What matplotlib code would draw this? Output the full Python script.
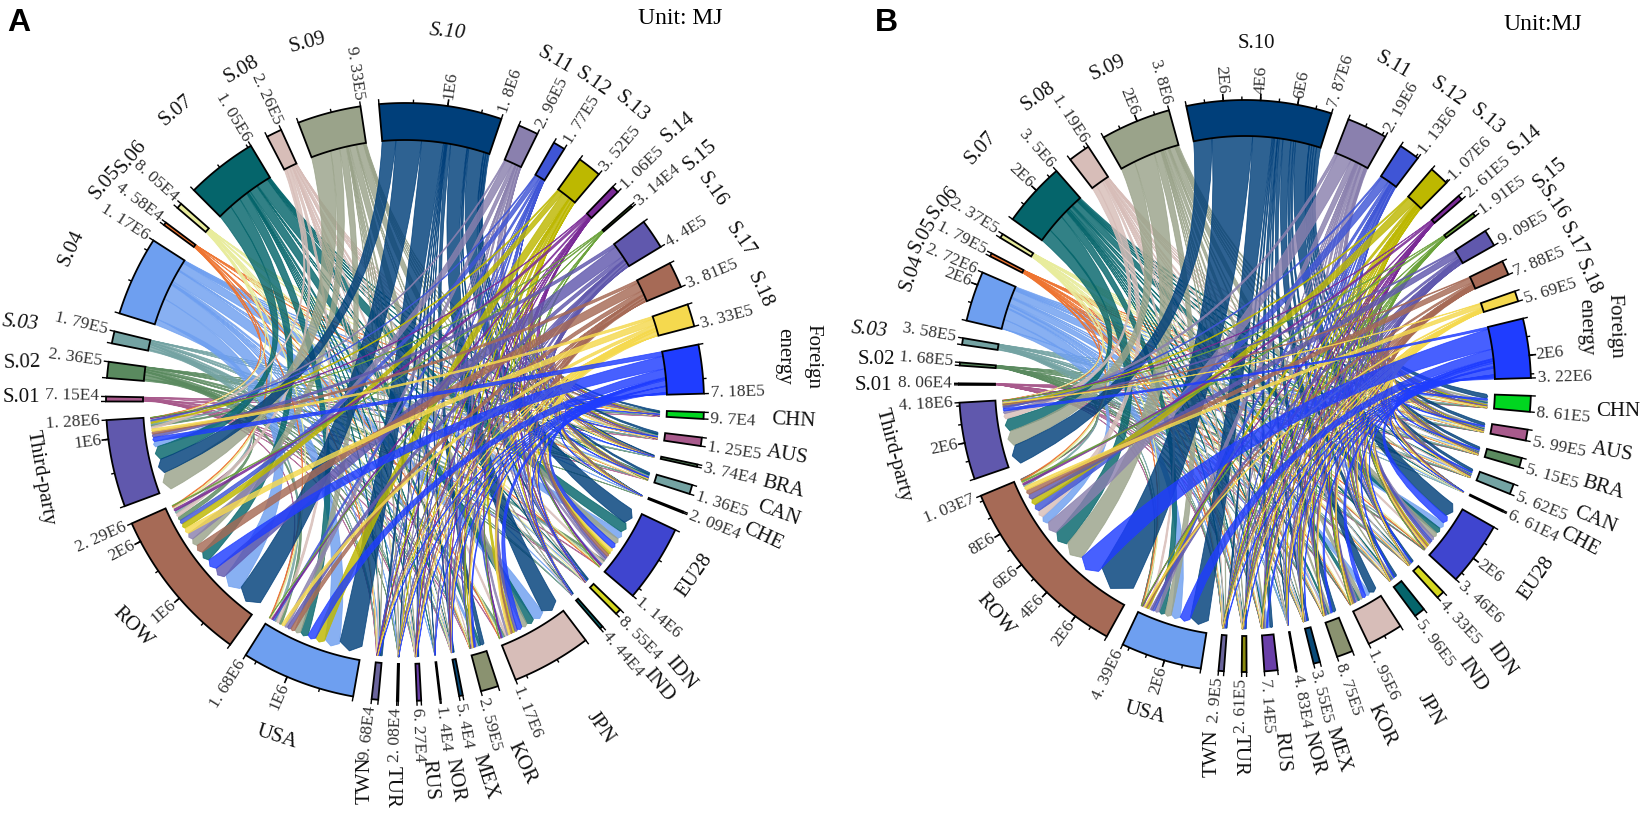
import numpy as np
import matplotlib
matplotlib.use('Agg')
import matplotlib.pyplot as plt
from matplotlib.path import Path
from matplotlib.patches import PathPatch

plt.rcParams['font.family'] = ['Liberation Serif', 'DejaVu Sans']

src_names = ['S.01', 'S.02', 'S.03', 'S.04', 'S.05', 'S.06', 'S.07', 'S.08', 'S.09', 'S.10',
             'S.11', 'S.12', 'S.13', 'S.14', 'S.15', 'S.16', 'S.17', 'S.18', 'Foreign\nenergy']
dst_names = ['CHN', 'AUS', 'BRA', 'CAN', 'CHE', 'EU28', 'IDN', 'IND', 'JPN', 'KOR', 'MEX',
             'NOR', 'RUS', 'TUR', 'TWN', 'USA', 'ROW', 'Third-party']

src_a = [7.15e4, 2.36e5, 1.79e5, 1.17e6, 4.58e4, 8.05e4, 1.05e6, 2.26e5, 9.33e5, 1.8e6,
         2.96e5, 1.77e5, 3.52e5, 1.06e5, 3.14e4, 4.4e5, 3.81e5, 3.33e5, 7.18e5]
dst_a = [9.7e4, 1.25e5, 3.74e4, 1.36e5, 2.09e4, 1.14e6, 8.55e4, 4.44e4, 1.17e6, 2.59e5, 5.4e4,
         1.4e4, 6.27e4, 2.08e4, 9.68e4, 1.68e6, 2.29e6, 1.28e6]
src_b = [8.06e4, 1.68e5, 3.58e5, 2.72e6, 1.79e5, 2.37e5, 3.5e6, 1.19e6, 3.8e6, 7.87e6,
         2.19e6, 1.13e6, 1.07e6, 2.61e5, 1.91e5, 9.09e5, 7.88e5, 5.69e5, 3.22e6]
dst_b = [8.61e5, 5.99e5, 5.15e5, 5.62e5, 6.61e4, 3.46e6, 4.33e5, 5.96e5, 1.95e6, 8.75e5, 3.55e5,
         4.83e4, 7.14e5, 2.61e5, 2.9e5, 4.39e6, 1.03e7, 4.18e6]

# flows in 1000 MJ, rows = src_names, columns = dst_names, estimated from band widths
flows_a = [
    [1, 1, 0, 2, 0, 10, 1, 0, 8, 2, 1, 0, 1, 0, 1, 14, 20, 10],
    [3, 3, 1, 4, 1, 30, 2, 1, 26, 7, 2, 0, 2, 1, 3, 50, 70, 30],
    [2, 3, 1, 3, 0, 24, 2, 1, 22, 5, 1, 0, 1, 0, 2, 38, 52, 22],
    [10, 14, 4, 16, 2, 130, 8, 5, 190, 30, 6, 1, 6, 2, 10, 245, 340, 91],
    [1, 1, 0, 1, 0, 6, 0, 0, 6, 1, 0, 0, 0, 0, 1, 9, 14, 6],
    [1, 1, 0, 1, 0, 11, 1, 0, 10, 3, 1, 0, 1, 0, 1, 15, 23, 11],
    [12, 14, 4, 16, 2, 170, 10, 5, 125, 30, 6, 2, 8, 2, 10, 130, 175, 215],
    [3, 3, 1, 3, 1, 30, 2, 1, 28, 6, 1, 0, 2, 1, 3, 42, 60, 39],
    [9, 11, 4, 13, 2, 100, 8, 4, 95, 22, 5, 1, 6, 2, 8, 100, 135, 293],
    [25, 30, 9, 30, 5, 260, 20, 10, 280, 60, 12, 3, 15, 5, 25, 370, 430, 231],
    [3, 4, 1, 5, 1, 35, 3, 2, 30, 8, 2, 0, 2, 1, 3, 55, 120, 21],
    [2, 3, 1, 3, 0, 20, 2, 1, 18, 5, 1, 0, 1, 0, 2, 32, 70, 16],
    [4, 5, 1, 6, 1, 50, 3, 2, 45, 10, 2, 0, 2, 1, 4, 150, 90, 21],
    [1, 1, 0, 2, 0, 14, 1, 1, 12, 3, 1, 0, 1, 0, 1, 20, 38, 10],
    [0, 0, 0, 1, 0, 4, 0, 0, 3, 1, 0, 0, 0, 0, 0, 6, 12, 4],
    [4, 6, 2, 6, 1, 45, 4, 2, 45, 10, 3, 1, 3, 1, 4, 60, 200, 53],
    [4, 5, 2, 5, 1, 45, 3, 2, 40, 9, 2, 0, 3, 1, 4, 65, 145, 45],
    [4, 4, 1, 5, 1, 70, 3, 2, 30, 8, 2, 0, 2, 1, 3, 50, 100, 42],
    [8, 10, 3, 11, 2, 90, 6, 3, 85, 20, 4, 1, 6, 2, 8, 130, 190, 69],
]
flows_b = [
    [2, 2, 1, 1, 0, 10, 1, 2, 5, 2, 1, 0, 2, 1, 1, 12, 26, 12],
    [5, 3, 3, 3, 0, 19, 2, 3, 11, 5, 2, 0, 4, 1, 2, 24, 56, 25],
    [10, 7, 6, 7, 1, 40, 5, 7, 23, 10, 4, 1, 8, 3, 3, 52, 121, 50],
    [60, 45, 38, 42, 5, 400, 32, 45, 300, 65, 27, 4, 150, 20, 22, 600, 500, 30],
    [4, 3, 3, 3, 0, 23, 3, 4, 12, 6, 2, 0, 5, 2, 2, 28, 64, 15],
    [6, 4, 4, 4, 1, 30, 4, 5, 16, 8, 3, 0, 6, 2, 2, 38, 80, 24],
    [80, 60, 50, 55, 6, 350, 40, 55, 180, 80, 35, 5, 50, 25, 30, 400, 1000, 749],
    [22, 15, 13, 14, 2, 100, 11, 15, 50, 23, 9, 1, 18, 7, 8, 130, 450, 322],
    [80, 60, 50, 55, 6, 330, 45, 60, 200, 90, 35, 5, 60, 25, 30, 420, 1300, 899],
    [250, 170, 140, 150, 18, 850, 120, 170, 500, 230, 100, 12, 170, 70, 80, 1200, 2500, 1140],
    [55, 40, 35, 35, 5, 210, 28, 38, 130, 55, 22, 3, 48, 17, 18, 290, 800, 161],
    [30, 20, 18, 20, 2, 120, 15, 20, 65, 30, 12, 2, 24, 9, 10, 150, 450, 83],
    [30, 20, 15, 16, 2, 95, 12, 16, 55, 25, 10, 1, 20, 8, 8, 120, 400, 67],
    [7, 5, 4, 5, 1, 30, 4, 5, 16, 7, 3, 0, 6, 2, 2, 35, 110, 19],
    [5, 4, 3, 4, 0, 22, 3, 4, 12, 6, 2, 0, 4, 2, 2, 26, 75, 17],
    [25, 18, 15, 17, 2, 110, 12, 18, 60, 26, 11, 2, 20, 8, 9, 130, 350, 76],
    [22, 15, 13, 14, 2, 95, 11, 15, 50, 22, 9, 1, 18, 7, 8, 115, 320, 51],
    [16, 11, 10, 11, 1, 70, 8, 11, 36, 16, 7, 1, 13, 5, 5, 75, 240, 33],
    [100, 70, 60, 65, 8, 450, 50, 70, 240, 105, 45, 6, 90, 30, 35, 650, 1400, 146],
]

src_colors = ['#a85a8c', '#5a8a5f', '#74a3a3', '#6e9ff0', '#ee7430', '#e8ec9c', '#05656b', '#d7bdb8',
              '#9aa38a', '#003f7a', '#8a80ae', '#3f55d6', '#bdb800', '#7a2a96', '#6aa23a', '#6058ad',
              '#a66a56', '#f5d94e', '#1f3dff']
dst_colors = ['#00d620', '#a85a8c', '#5a8a5f', '#74a3a3', '#c75f22', '#3f45cf', '#d6d820', '#05656b',
              '#d7bdb8', '#8a9270', '#0a4a78', '#222222', '#6a3fa8', '#8a8a10', '#6a649c', '#6e9ff0',
              '#a66a56', '#6058ad']

# name label placement (pixel x, pixel y, rotation), sources then destinations
names_pos_a = [(21, 398, 0), (22, 363, 2), (20, 323, -5), (71, 248, 65), (105, 183, 50), (131, 157, 50),
               (176, 110, 40), (242, 70, 30), (308, 43, 15), (447, 32, -5), (555, 60, -30), (593, 82, -35),
               (632, 107, -40), (678, 127, 40), (700, 155, 40), (712, 190, -55), (740, 240, -55),
               (760, 290, -65), (798, 356, -90),
               (793, 421, -3), (787, 455, -10), (783, 487, -15), (778, 513, -20), (763, 537, -25),
               (695, 575, 55), (681, 673, -50), (659, 685, -50), (600, 728, -55), (522, 763, -65),
               (485, 777, -72), (455, 780, -80), (430, 780, -85), (392, 787, -90), (365, 780, 90),
               (277, 737, -18), (133, 627, -45), (40, 478, -80)]
names_pos_b = [(873, 386, 0), (876, 360, 0), (869, 330, -5), (912, 273, 70), (923, 235, 60), (943, 203, 50),
               (981, 148, 48), (1038, 97, 35), (1108, 68, 25), (1256, 43, 0), (1393, 65, -30), (1448, 92, -35),
               (1487, 120, -40), (1525, 140, 40), (1550, 173, 40), (1553, 203, -55), (1573, 240, -60),
               (1588, 277, -65), (1600, 327, -88),
               (1618, 412, 0), (1612, 452, -10), (1603, 488, -17), (1595, 520, -22), (1580, 542, -28),
               (1537, 578, 55), (1502, 660, -55), (1473, 675, -55), (1430, 710, -60), (1382, 725, -65),
               (1338, 750, -72), (1313, 753, -75), (1282, 752, -85), (1240, 755, -90), (1212, 753, 90),
               (1145, 713, -15), (995, 615, -50), (893, 455, -75)]

GAP = 3.57


def xy(cx, cy, r, deg):
    a = np.radians(deg)
    return cx + r * np.cos(a), cy - r * np.sin(a)


def sci_label(v):
    m, e = f'{v:.2e}'.split('e')
    m = m.rstrip('0').rstrip('.')
    if '.' in m:
        m = m.replace('.', '. ')
    return f'{m}E{int(e)}'


def draw_sector(ax, cx, cy, R, r_in, a0, a1, value, color, step):
    # a0 is the counter clockwise end, value grows clockwise to a1
    th = np.linspace(a0, a1, max(int(abs(a1 - a0) * 2), 2))
    xo, yo = xy(cx, cy, R, th)
    xi, yi = xy(cx, cy, r_in, th[::-1])
    ax.fill(np.r_[xo, xi], np.r_[yo, yi], facecolor=color, edgecolor='black', lw=1.3, zorder=30,
            joinstyle='miter')
    deg_per = (a0 - a1) / value
    ticks = [(t, 3.5) for t in np.arange(step / 2, value, step / 2)]
    for t, ln in ticks + [(0, 5), (value, 5)]:
        a = a0 - t * deg_per
        x0, y0 = xy(cx, cy, R, a)
        x1, y1 = xy(cx, cy, R + ln, a)
        ax.plot([x0, x1], [y0, y1], color='black', lw=1, zorder=31, solid_capstyle='butt')
    labels = [(value, sci_label(value))]
    for t in np.arange(step, value, step):
        if value - t > step / 4:
            labels.append((t, f'{int(t / 10 ** int(np.log10(t)))}E{int(np.log10(t))}'))
            a = a0 - t * deg_per
            x0, y0 = xy(cx, cy, R, a)
            x1, y1 = xy(cx, cy, R + 6, a)
            ax.plot([x0, x1], [y0, y1], color='black', lw=1.2, zorder=31)
    for t, s in labels:
        a = (a0 - t * deg_per) % 360
        x, y = xy(cx, cy, R + 7, a)
        left = 90 < a < 272
        ax.text(x, y, s, rotation=a + 180 if left else a, rotation_mode='anchor',
                ha='right' if left else 'left', va='center', fontsize=12.5, color='#333333')


def ctrl(cx, cy, p, q):
    # control point pulled most of the way to the centre
    k = 0.25
    return cx + k * ((p[0] + q[0]) / 2 - cx), cy + k * ((p[1] + q[1]) / 2 - cy)


def draw_chord(ax, cx, cy, r_in, s0, s1, d0, d1, color):
    # ribbon from a source arc to an arrow shaped end on a destination arc
    tip_r = r_in - 7
    w = np.radians(abs(d1 - d0)) * tip_r
    sh_r = tip_r - min(w * 0.3, 12)
    ths = np.linspace(s0, s1, max(int(abs(s1 - s0) * 2), 2))
    sx, sy = xy(cx, cy, r_in, ths)
    verts = list(zip(sx, sy))
    codes = [Path.MOVETO] + [Path.LINETO] * (len(ths) - 1)
    p0 = xy(cx, cy, sh_r, d0)
    p1 = xy(cx, cy, sh_r, d1)
    verts += [ctrl(cx, cy, verts[-1], p0), p0]
    codes += [Path.CURVE3, Path.CURVE3]
    verts += [xy(cx, cy, tip_r, (d0 + d1) / 2), p1]
    codes += [Path.LINETO, Path.LINETO]
    first = (sx[0], sy[0])
    verts += [ctrl(cx, cy, p1, first), first, first]
    codes += [Path.CURVE3, Path.CURVE3, Path.CLOSEPOLY]
    ax.add_patch(PathPatch(Path(verts, codes), facecolor=color, edgecolor=color, lw=0.6,
                           alpha=0.82, zorder=10))


def draw_panel(ax, cx, cy, R, thick, src, dst, flows, step, names_pos, italic):
    r_in = R - thick
    flows = np.array(flows, dtype=float)
    total = sum(src) + sum(dst)
    per = (360 - GAP * (len(src) + len(dst))) / total
    # clockwise from the first destination, just under the horizontal
    angle = 1.6 - GAP
    dst_span = []
    for v in dst:
        dst_span.append((angle, angle - v * per))
        angle -= v * per + GAP
    src_span = []
    for v in src:
        src_span.append((angle, angle - v * per))
        angle -= v * per + GAP

    # where each ribbon sits inside its two sectors
    src_pos = {}
    for i, (a0, a1) in enumerate(src_span):
        row = flows[i]
        a = a0
        for j in range(len(dst) - 1, -1, -1):
            da = row[j] / row.sum() * (a0 - a1)
            src_pos[i, j] = (a, a - da)
            a -= da
    dst_pos = {}
    for j, (a0, a1) in enumerate(dst_span):
        col = flows[:, j]
        a = a0
        # biggest band first going clockwise
        for i in np.argsort(col)[::-1]:
            da = col[i] / col.sum() * (a0 - a1)
            dst_pos[i, j] = (a, a - da)
            a -= da

    for i in range(len(src)):
        for j in range(len(dst)):
            if flows[i, j] > 0:
                s0, s1 = src_pos[i, j]
                d0, d1 = dst_pos[i, j]
                draw_chord(ax, cx, cy, r_in, s0, s1, d0, d1, src_colors[i])

    for i, (a0, a1) in enumerate(src_span):
        draw_sector(ax, cx, cy, R, r_in, a0, a1, src[i], src_colors[i], step)
    for j, (a0, a1) in enumerate(dst_span):
        draw_sector(ax, cx, cy, R, r_in, a0, a1, dst[j], dst_colors[j], step)

    for name, (x, y, rot) in zip(src_names + dst_names, names_pos):
        ax.text(x, y, name, rotation=rot, rotation_mode='anchor', ha='center', va='center',
                fontsize=15, color='#111111', linespacing=1.75,
                style='italic' if name in italic else 'normal')


fig = plt.figure(figsize=(16.5, 8.16), dpi=100)
ax = fig.add_axes([0, 0, 1, 1])
ax.set_xlim(0, 1650)
ax.set_ylim(816, 0)
ax.axis('off')

draw_panel(ax, 405, 402, 299, 37, src_a, dst_a, flows_a, 1e6, names_pos_a, ['S.03', 'S.10'])
draw_panel(ax, 1245, 386, 286, 36, src_b, dst_b, flows_b, 2e6, names_pos_b, ['S.03'])

ax.text(19, 23, 'A', fontsize=23, fontweight='bold', family='Liberation Sans', ha='center', va='center')
ax.text(886, 23, 'B', fontsize=23, fontweight='bold', family='Liberation Sans', ha='center', va='center')
ax.text(680, 18, 'Unit: MJ', fontsize=17, ha='center', va='center')
ax.text(1543, 25, 'Unit:MJ', fontsize=17, ha='center', va='center')

plt.savefig('out.png', dpi=100)
